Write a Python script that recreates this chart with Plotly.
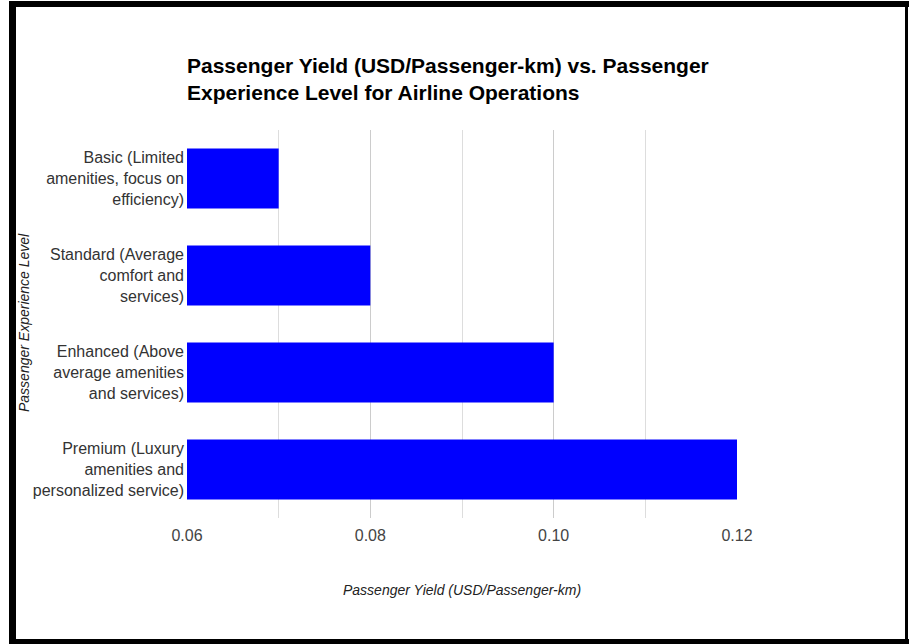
import plotly.graph_objects as go

# Experience levels (top to bottom) and their passenger yield
levels = [
    "Basic (Limited<br>amenities, focus on<br>efficiency)",
    "Standard (Average<br>comfort and<br>services)",
    "Enhanced (Above<br>average amenities<br>and services)",
    "Premium (Luxury<br>amenities and<br>personalized service)",
]
yield_usd = [0.07, 0.08, 0.10, 0.12]

x_min, x_max = 0.06, 0.12
x_tick_vals = [0.06, 0.08, 0.10, 0.12]
x_tick_text = ["0.06", "0.08", "0.10", "0.12"]

W, H = 909, 644
ML, MR, MT, MB = 187, 172, 130, 126
PW, PH = W - ML - MR, H - MT - MB


def px_x(px):
    return (px - ML) / PW


def px_y(py):
    return (H - MB - py) / PH


FONT = "Arial, 'Liberation Sans', sans-serif"

fig = go.Figure(
    go.Bar(
        x=yield_usd,
        y=levels,
        orientation="h",
        marker=dict(color="#0000ff", line=dict(width=0)),
        hoverinfo="x+y",
    )
)

# black frame around the chart
frame = [
    (9, 1, 909, 7),     # top
    (9, 1, 16, 644),    # left
    (905, 1, 908, 644), # right
    (9, 639, 909, 644), # bottom
]
shapes = [
    dict(type="rect", xref="paper", yref="paper",
         x0=px_x(a), x1=px_x(c), y0=px_y(d), y1=px_y(b),
         fillcolor="black", line=dict(width=0), layer="above")
    for a, b, c, d in frame
]

fig.update_layout(
    width=W,
    height=H,
    margin=dict(l=ML, r=MR, t=MT, b=MB, autoexpand=False),
    paper_bgcolor="white",
    plot_bgcolor="white",
    font=dict(family=FONT, size=16, color="#333333"),
    bargap=0.38,
    showlegend=False,
    title=dict(
        text="<b>Passenger Yield (USD/Passenger-km) vs. Passenger<br>Experience Level for Airline Operations</b>",
        font=dict(family=FONT, size=21, color="#000000"),
        x=0, xref="paper", xanchor="left",
        y=1 - 73 / H, yref="container", yanchor="top",
    ),
    xaxis=dict(
        range=[x_min, x_max],
        tickmode="array",
        tickvals=x_tick_vals,
        ticktext=x_tick_text,
        tickfont=dict(size=16, color="#444444"),
        showgrid=True,
        gridcolor="#cccccc",
        gridwidth=1,
        zeroline=False,
        showline=False,
        ticks="",
        ticklabelstandoff=6,
        minor=dict(dtick=0.01, tick0=0.06, showgrid=True, gridcolor="#dddddd", gridwidth=1),
        fixedrange=True,
    ),
    yaxis=dict(
        autorange="reversed",
        tickfont=dict(size=16, color="#333333"),
        showgrid=False,
        zeroline=False,
        showline=False,
        ticks="",
        ticklabelstandoff=2,
        fixedrange=True,
    ),
    shapes=shapes,
    annotations=[
        dict(
            text="<i>Passenger Yield (USD/Passenger-km)</i>",
            xref="paper", yref="paper",
            x=0.5, y=px_y(590),
            xanchor="center", yanchor="middle",
            showarrow=False,
            font=dict(family=FONT, size=14, color="#222222"),
        ),
        dict(
            text="<i>Passenger Experience Level</i>",
            xref="paper", yref="paper",
            x=px_x(24), y=px_y(323),
            xanchor="center", yanchor="middle",
            textangle=-90,
            showarrow=False,
            font=dict(family=FONT, size=14, color="#222222"),
        ),
    ],
)

fig.write_html("out.html")
